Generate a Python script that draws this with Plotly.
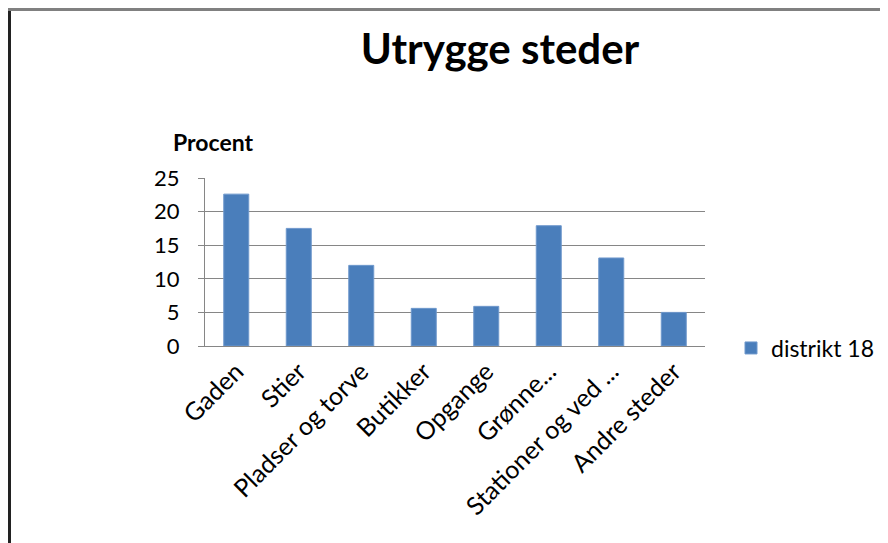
import plotly.graph_objects as go

categories = ["Gaden", "Stier", "Pladser og torve", "Butikker", "Opgange",
              "Grønne...", "Stationer og ved ...", "Andre steder"]
values = [22.6, 17.5, 12.0, 5.6, 5.9, 17.9, 13.1, 5.0]
series_name = "distrikt 18"
y_ticks = [0, 5, 10, 15, 20, 25]

FONT = "Lato, Carlito, 'Open Sans', sans-serif"

# page body has an 8px margin; work in figure coords = window - 8
OFF = 8
W, H = 888 - OFF, 543 - OFF
L, R, T, B = 205 - OFF, 705 - OFF, 178 - OFF, 346 - OFF

def px(xw):
    return (xw - OFF - L) / (R - L)

def py(yw):
    return (B - (yw - OFF)) / (B - T)

fig = go.Figure()
fig.add_trace(go.Bar(
    x=categories, y=values, name=series_name,
    marker=dict(color="#4A7EBB", line=dict(color="#6F98CC", width=1)),
    showlegend=True,
))

fig.update_layout(
    width=W, height=H,
    margin=dict(l=L, r=W - R, t=T, b=H - B, pad=0, autoexpand=False),
    paper_bgcolor="white", plot_bgcolor="white",
    font=dict(family=FONT, color="#000000", size=22),
    title=dict(text="<b>Utrygge steder</b>", x=(500 - OFF) / W, xanchor="center",
               y=1 - (49 - OFF) / H, yanchor="middle",
               font=dict(family=FONT, size=42, color="#000000")),
    bargap=0.6,
    showlegend=True,
    legend=dict(x=px(731), xanchor="left", y=py(348), yanchor="middle",
                font=dict(size=23, family=FONT), bgcolor="rgba(0,0,0,0)",
                itemwidth=30),
    xaxis=dict(
        showgrid=False, showline=True, linecolor="#868686", linewidth=1,
        ticks="", tickangle=-45, tickfont=dict(size=25, family=FONT),
    ),
    yaxis=dict(
        range=[0, 25], tickvals=y_ticks, showgrid=True, gridcolor="#868686",
        gridwidth=1, showline=True, linecolor="#868686", linewidth=1,
        ticks="outside", ticklen=6, tickcolor="#868686",
        ticklabelstandoff=14,
        tickfont=dict(size=22, family=FONT), zeroline=False,
    ),
    annotations=[dict(text="<b>Procent</b>", x=px(213), y=py(142),
                      xref="paper", yref="paper", showarrow=False,
                      xanchor="center", yanchor="middle",
                      font=dict(size=23, family=FONT))],
    shapes=[
        dict(type="line", xref="paper", yref="paper", x0=px(9.5), x1=px(9.5),
             y0=py(560), y1=py(8), line=dict(color="#222222", width=3)),
        dict(type="line", xref="paper", yref="paper", x0=px(8), x1=px(900),
             y0=py(9.5), y1=py(9.5), line=dict(color="#808080", width=3)),
    ],
)

fig.write_html("out.html")
